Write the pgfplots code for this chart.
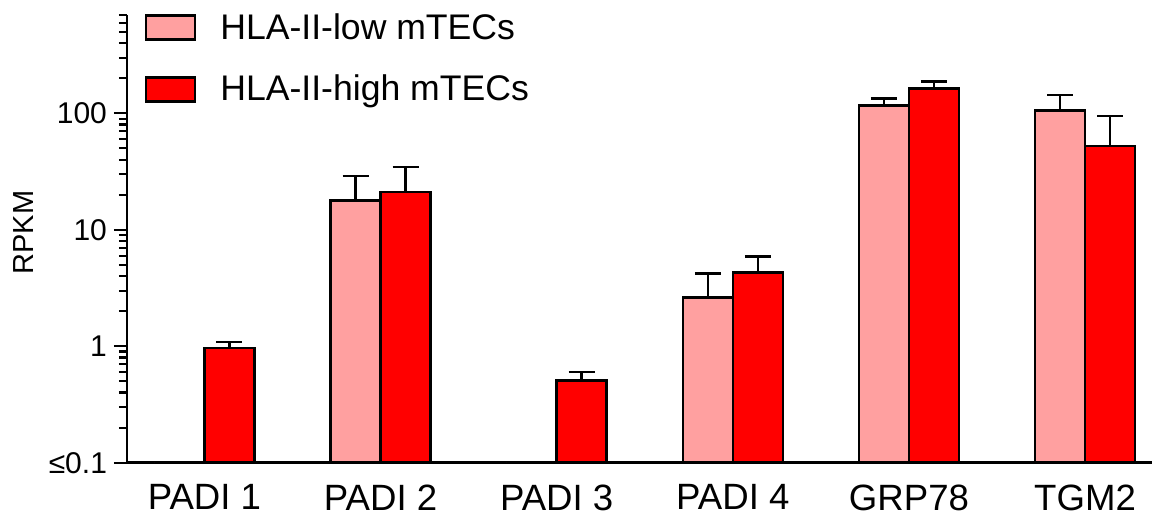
\documentclass[border=0pt]{standalone}
\usepackage{pgfplots}
\usepackage{pgfplotstable}
\usepackage{fontspec}
\setmainfont{Liberation Sans}
\pgfplotsset{compat=1.18}
\definecolor{lowpink}{RGB}{255,160,160}
\definecolor{highred}{RGB}{255,0,0}

% RPKM values and upper error (SD)
\pgfplotstableread{
x low lowerr high higherr
0 0.1 0 0.97 0.12
1 17.8 11.1 21.0 13.5
2 0.1 0 0.51 0.09
3 2.61 1.6 4.3 1.6
4 117 17 163 24
5 106 37 52.4 42.6
}\datatable

\begin{document}
\begin{tikzpicture}
\begin{axis}[
    name=ax,
    scale only axis,
    width=512.5pt, height=223.9pt,
    ymode=log, log origin=infty,
    ymin=0.1, ymax=700,
    xmin=-0.44, xmax=5.38,
    ybar=0pt, bar width=25pt,
    axis x line*=bottom, axis y line*=left,
    axis line style={line width=1.25pt, black},
    xtick={0,...,5},
    xticklabels={PADI 1, PADI 2, PADI 3, PADI 4, GRP78, TGM2},
    xtick style={draw=none},
    xticklabel style={font=\fontsize{18.3}{21}\selectfont, yshift=-1pt},
    ytick={0.1,1,10,100},
    yticklabels={≤0.1,1,10,100},
    minor ytick={0.2,0.3,0.4,0.5,0.6,0.7,0.8,0.9,2,3,4,5,6,7,8,9,20,30,40,50,60,70,80,90,200,300,400,500,600,700},
    yticklabel style={font=\fontsize{15}{18}\selectfont},
    tick align=outside,
    ytick style={line width=1.1pt, black},
    major tick length=6.5pt, minor tick length=4pt,
    ylabel={RPKM},
    every axis y label/.style={at={(axis description cs:-0.1005,0.514)}, rotate=90, anchor=center,
        font=\fontsize{14.5}{17}\selectfont},
    clip=false,
    legend style={draw=none, fill=none, at={(axis description cs:0.017,1)}, anchor=north west,
        yshift=3pt, inner sep=0pt, row sep=12.5pt, column sep=10pt,
        font=\fontsize{17.8}{20}\selectfont},
    legend cell align=left,
    legend image code/.code={\draw[#1] (0pt,-6pt) rectangle (24.5pt,6pt);},
    error bars/y dir=plus,
    error bars/y explicit,
    error bars/error bar style={line width=1.25pt, black},
    error bars/error mark options={line width=1.25pt, black, mark size=6.5pt, rotate=90},
]
\addplot[fill=lowpink, draw=black, line width=1.25pt]
    table[x=x, y=low, y error=lowerr] {\datatable};
\addplot[fill=highred, draw=black, line width=1.25pt]
    table[x=x, y=high, y error=higherr] {\datatable};
\legend{HLA-II-low mTECs, HLA-II-high mTECs}
\end{axis}
\pgfresetboundingbox
\path[use as bounding box] ([xshift=-63.5pt,yshift=-27.65pt]ax.south west)
    rectangle ([xshift=515.5pt,yshift=231.35pt]ax.south west);
\end{tikzpicture}
\end{document}
